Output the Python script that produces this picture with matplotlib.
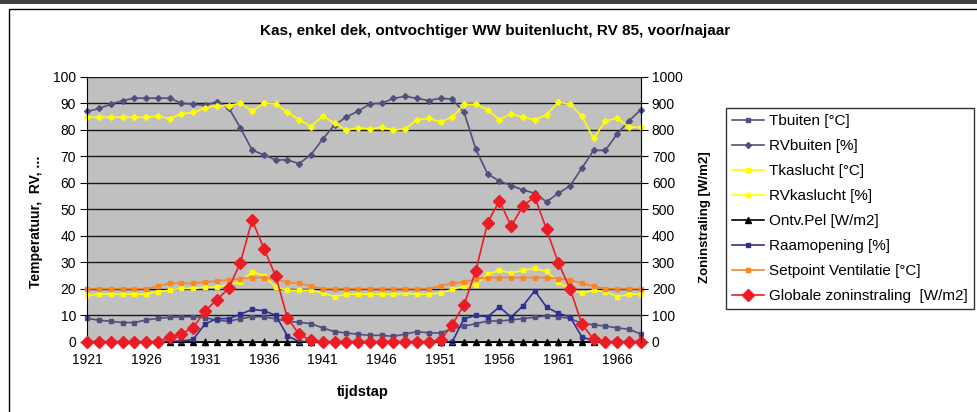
import numpy as np
import matplotlib
matplotlib.use("Agg")
import matplotlib.pyplot as plt
from matplotlib.patches import Rectangle

plt.rcParams['font.family'] = ['Liberation Sans', 'DejaVu Sans']

# tijdstappen
tijdstap = list(range(1921, 1969))

t_buiten = [8.8, 8.1, 7.7, 7.2, 7.2, 8.2, 8.8, 9.2, 9.4, 9.4,
            9.1, 8.1, 7.7, 8.7, 9.4, 9.4, 8.6, 7.7, 7.3, 6.8,
            5.2, 3.8, 3.3, 2.8, 2.4, 2.4, 2.0, 2.9, 3.8, 3.3,
            3.3, 4.9, 5.9, 6.8, 7.8, 7.8, 8.2, 8.7, 9.2, 9.8,
            9.4, 8.8, 6.8, 6.4, 5.9, 5.2, 4.7, 2.9]
rv_buiten = [86.9, 88.0, 89.6, 91.0, 91.9, 91.9, 91.9, 91.9, 90.0, 89.6,
             89.2, 90.5, 88.3, 80.7, 72.3, 70.5, 68.6, 68.6, 67.2, 70.6,
             76.5, 81.8, 84.8, 87.0, 89.7, 90.0, 91.8, 92.6, 91.8, 91.0,
             91.9, 91.5, 86.5, 72.6, 63.3, 60.6, 58.9, 57.3, 56.0, 52.8,
             56.0, 58.8, 65.5, 72.2, 72.2, 78.4, 83.3, 87.5]
t_kaslucht = [17.5, 17.9, 17.9, 17.9, 17.9, 17.9, 18.9, 19.4, 20.1, 20.1,
              20.6, 20.6, 21.5, 22.6, 26.4, 24.8, 20.6, 19.4, 19.4, 19.4,
              18.4, 17.0, 17.9, 17.9, 17.9, 17.9, 17.9, 18.3, 17.9, 17.9,
              18.4, 19.7, 21.0, 21.5, 25.5, 26.9, 26.0, 26.9, 27.7, 26.5,
              22.5, 19.7, 18.4, 19.4, 18.9, 17.0, 17.9, 17.9]
rv_kaslucht = [84.7, 84.7, 84.7, 84.7, 84.7, 84.7, 85.1, 84.2, 86.0, 86.5,
               88.2, 89.1, 89.1, 90.0, 87.0, 90.0, 89.7, 86.5, 83.8, 81.2,
               85.1, 82.5, 79.8, 80.7, 80.3, 80.9, 79.8, 80.3, 83.8, 84.3,
               83.0, 84.7, 89.6, 89.6, 87.5, 83.8, 86.0, 84.7, 83.8, 85.6,
               90.4, 89.6, 85.1, 76.7, 83.3, 84.3, 80.9, 80.9]
ontv_pel = [0.0] * 48
raamopening = [0, 0, 0, 0, 0, 0, 0, 0.2, 0.2, 0.9,
               6.7, 8.7, 8.7, 10.3, 12.2, 11.7, 9.9, 2.2, 0, 0,
               0, 0, 0, 0, 0, 0, 0, 0, 0, 0,
               0, 0, 8.7, 9.9, 9.4, 13.1, 9.3, 13.5, 19.2, 13.1,
               10.7, 9.4, 1.8, 0.4, 0, 0, 0, 0]
setpoint_vent = [20, 20, 20, 20, 20, 20, 21.0, 22.0, 22.0, 22.0,
                 22.5, 22.9, 23.3, 23.8, 24.2, 24.2, 23.5, 22.4, 22.0, 21.0,
                 20, 20, 20, 20, 20, 20, 20, 20, 20, 20,
                 21.0, 22.0, 22.5, 23.7, 24.2, 24.2, 24.2, 24.2, 24.2, 24.2,
                 23.8, 23.3, 22.0, 21.0, 20, 20, 20, 20]
zoninstraling = [0, 0, 0, 0, 0, 0, 0, 18, 30, 53,
                 116, 158, 201, 298, 459, 351, 248, 89, 28, 5,
                 0, 0, 0, 0, 0, 0, 0, 0, 0, 0,
                 6, 64, 140, 268, 449, 532, 436, 512, 547, 424,
                 298, 200, 67, 9, 0, 0, 0, 0]

W, H = 978, 412
fig = plt.figure(figsize=(W / 100, H / 100), dpi=100)
ax = fig.add_axes([87.3 / W, 1 - 341.7 / H, (640.7 - 87.3) / W, (341.7 - 76.7) / H])
ax.set_facecolor('#C0C0C0')

slate = '#50507E'
lw = 1.2
series = [
    (t_buiten, 'Tbuiten [°C]', slate, 's', 3.5),
    (rv_buiten, 'RVbuiten [%]', slate, 'D', 3.0),
    (t_kaslucht, 'Tkaslucht [°C]', '#FFFF00', 's', 3.5),
    (rv_kaslucht, 'RVkaslucht [%]', '#FFFF00', 'D', 3.0),
    (ontv_pel, 'Ontv.Pel [W/m2]', '#000000', '^', 4.0),
    (raamopening, 'Raamopening [%]', '#2E3192', 's', 3.5),
    (setpoint_vent, 'Setpoint Ventilatie [°C]', '#F7862A', 's', 3.5),
]
handles = []
for vals, lab, col, mk, ms in series:
    h, = ax.plot(tijdstap, vals, color=col, marker=mk, markersize=ms, lw=lw,
                 markeredgecolor=col, label=lab, clip_on=False)
    handles.append(h)

ax.set_xlim(1921, 1968)
ax.set_ylim(0, 100)
ax.set_yticks(range(0, 101, 10))
ax.set_xticks(range(1921, 1967, 5))
ax.yaxis.grid(True, color='#1A1A1A', lw=1.0)
ax.set_axisbelow(True)
for s in ['top', 'right']:
    ax.spines[s].set_visible(False)
ax.spines['left'].set_color('black')
ax.spines['bottom'].set_color('black')
ax.tick_params(axis='y', direction='out', length=5, labelsize=10, pad=3)
ax.tick_params(axis='x', direction='inout', length=6, labelsize=10, pad=5)

ax2 = ax.twinx()
ax2.set_ylim(0, 1000)
ax2.set_yticks(range(0, 1001, 100))
ax2.patch.set_visible(False)
ax2.spines['top'].set_visible(False)
ax2.spines['left'].set_visible(False)
ax2.spines['bottom'].set_visible(False)
ax2.spines['right'].set_color('black')
ax2.tick_params(axis='y', direction='out', length=5, labelsize=10, pad=3)
h, = ax2.plot(tijdstap, zoninstraling, color='#ED1C24', marker='D', markersize=6,
              lw=lw, markeredgecolor='#ED1C24', label='Globale zoninstraling  [W/m2]',
              clip_on=False)
handles.append(h)

fig.text(495 / W, 1 - 31 / H, 'Kas, enkel dek, ontvochtiger WW buitenlucht, RV 85, voor/najaar',
         ha='center', va='center', fontsize=11, fontweight='bold')
fig.text(36 / W, 1 - 222 / H, 'Temperatuur,  RV, ...', rotation=90,
         ha='center', va='center', fontsize=10, fontweight='bold')
fig.text(705 / W, 1 - 217 / H, 'Zoninstraling [W/m2]', rotation=90,
         ha='center', va='center', fontsize=9.5, fontweight='bold')
fig.text(363 / W, 1 - 392 / H, 'tijdstap', ha='center', va='center',
         fontsize=10.5, fontweight='bold')

leg = fig.legend(handles=handles, loc='lower left',
                 bbox_to_anchor=(726 / W, 1 - 309 / H), fontsize=11,
                 frameon=True, fancybox=False, labelspacing=0.72,
                 handlelength=2.1, handletextpad=0.3, borderpad=0.4,
                 borderaxespad=0)
leg.get_frame().set_edgecolor('black')
leg.get_frame().set_linewidth(1.0)

# chart area border
fig.patches.append(Rectangle((9 / W, -0.1), 1.5, 1 - 9 / H + 0.1, transform=fig.transFigure,
                             fill=False, edgecolor='black', lw=1.0))
fig.patches.append(Rectangle((0, 1 - 4 / H), 1, 4 / H, transform=fig.transFigure,
                             facecolor='#404040', edgecolor='none'))

fig.savefig('out.png', dpi=100)
